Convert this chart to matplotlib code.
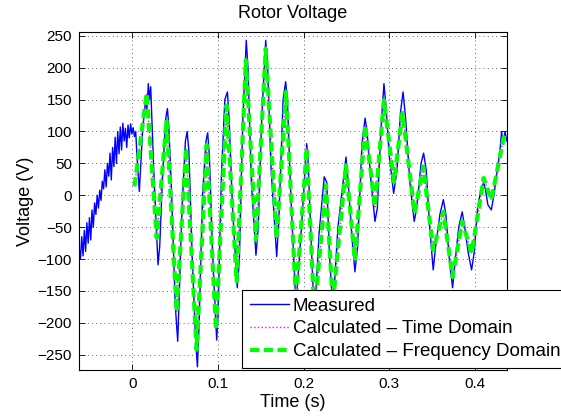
import matplotlib
matplotlib.use("Agg")
import matplotlib.pyplot as plt

plt.rcParams['font.family'] = ['Liberation Sans', 'DejaVu Sans']

# Measured voltage
meas_t = [-0.0622, -0.0605, -0.0590, -0.0575, -0.0560, -0.0545, -0.0530, -0.0515, -0.0500, -0.0485,
          -0.0470, -0.0455, -0.0440, -0.0425, -0.0410, -0.0395, -0.0380, -0.0365, -0.0350, -0.0335,
          -0.0320, -0.0305, -0.0290, -0.0275, -0.0260, -0.0245, -0.0230, -0.0215, -0.0200, -0.0185,
          -0.0170, -0.0155, -0.0140, -0.0125, -0.0110, -0.0095, -0.0080, -0.0065, -0.0050, -0.0035,
          -0.0020, -0.0005, 0.0010, 0.0025, 0.0040, 0.0055, 0.0082,
          0.0120, 0.0155, 0.0170, 0.0187, 0.0200, 0.0215, 0.0250, 0.0300, 0.0320, 0.0350, 0.0390,
          0.0410, 0.0425, 0.0460, 0.0500, 0.0530, 0.0545, 0.0580, 0.0620, 0.0640, 0.0660, 0.0700,
          0.0740, 0.0760, 0.0780, 0.0820, 0.0860, 0.0880, 0.0900, 0.0940, 0.0985, 0.1000, 0.1040,
          0.1080, 0.1110, 0.1130, 0.1170, 0.1225, 0.1250, 0.1290, 0.1330, 0.1350, 0.1390, 0.1443,
          0.1470, 0.1510, 0.1557, 0.1580, 0.1620, 0.1685, 0.1710, 0.1760, 0.1790, 0.1810, 0.1850,
          0.1910, 0.1970, 0.2035, 0.2050, 0.2090, 0.2125, 0.2180, 0.2240, 0.2270, 0.2300, 0.2340,
          0.2400, 0.2494, 0.2520, 0.2560, 0.2598, 0.2630, 0.2680, 0.2717, 0.2740, 0.2780, 0.2832,
          0.2860, 0.2900, 0.2937, 0.2960, 0.3000, 0.3050, 0.3090, 0.3130, 0.3160, 0.3190, 0.3240,
          0.3290, 0.3320, 0.3370, 0.3400, 0.3430, 0.3470, 0.3512, 0.3540, 0.3590, 0.3630, 0.3660,
          0.3700, 0.3738, 0.3770, 0.3810, 0.3850, 0.3880, 0.3920, 0.3960, 0.3990, 0.4030, 0.4070,
          0.4100, 0.4120, 0.4150, 0.4190, 0.4220, 0.4260, 0.4290, 0.4310, 0.4330, 0.4350, 0.4370]
meas_v = [-80, -100, -65, -95, -55, -88, -43, -75, -35, -70,
          -23, -50, -12, -30, 0, -20, 8, -8, 22, 10,
          40, 13, 50, 30, 66, 24, 75, 45, 91, 50,
          100, 65, 107, 71, 113, 85, 105, 75, 110, 90,
          112, 96, 106, 92, 100, 60, 6,
          100, 150, 135, 175, 150, 170, 40, -109, -80, 20, 120,
          136, 110, 0, -170, -229, -170, -20, 85, 100, 70, -100,
          -230, -269, -200, 0, 85, 98, 60, -100, -227, -190, 30,
          150, 162, 120, -20, -145, -100, 120, 243, 200, 20, -94,
          -50, 120, 243, 200, 40, -96, -40, 150, 178, 150, 0,
          -175, -60, 81, 60, -80, -195, -60, 29, 20, -90, -180,
          -50, 60, 20, -60, -120, -80, 80, 121, 100, 30, -41,
          -20, 100, 175, 140, 60, 3, 40, 130, 162, 120, 20,
          -41, -20, 50, 66, 40, -50, -117, -80, -30, -7, -30,
          -100, -145, -100, -50, -26, -50, -90, -117, -90, -20, 10,
          20, 10, -15, -23, 0, 40, 70, 100, 80, 100, 85]

# Calculated voltage (both methods nearly identical)
calc_t = [0.0025, 0.0168, 0.0285, 0.0400, 0.0518, 0.0627, 0.0750, 0.0868, 0.0977, 0.1100,
          0.1218, 0.1325, 0.1443, 0.1557, 0.1685, 0.1794, 0.1910, 0.2035, 0.2125, 0.2260,
          0.2340, 0.2494, 0.2598, 0.2717, 0.2832, 0.2937, 0.3054, 0.3153, 0.3295, 0.3396,
          0.3512, 0.3630, 0.3738, 0.3850, 0.3960, 0.4100, 0.4190, 0.4340]
calc_time_v = [14, 160, -67, 118, -182, 74, -242, 79, -211, 141,
               -135, 212, -70, 230, -67, 162, -165, 74, -185, 16,
               -170, 47, -102, 110, -18, 149, 21, 129, -28, 45,
               -86, -26, -128, -41, -91, 27, -7, 94]
calc_freq_v = [14, 160, -67, 118, -182, 74, -242, 79, -211, 141,
               -135, 212, -70, 230, -67, 162, -165, 74, -185, 16,
               -170, 47, -102, 110, -18, 149, 21, 129, -28, 45,
               -86, -26, -128, -41, -91, 27, -7, 94]

xticks = [0, 0.1, 0.2, 0.3, 0.4]
xticklabels = ['0', '0.1', '0.2', '0.3', '0.4']
yticks = [-250, -200, -150, -100, -50, 0, 50, 100, 150, 200, 250]

fig = plt.figure(figsize=(5.61, 4.20), dpi=100)
ax = fig.add_axes([79/561, 1-370/420, (507-79)/561, (370-32)/420])

ax.plot(meas_t, meas_v, color='#0000FF', lw=1.0, label='Measured')
ax.plot(calc_t, calc_time_v, color='#FF00FF', lw=1.0, ls=':', label='Calculated \u2013 Time Domain')
ax.plot(calc_t, calc_freq_v, color='#00FF00', lw=3.0, ls=(0, (2.2, 1.1)), label='Calculated \u2013 Frequency Domain')

ax.set_xlim(-0.0622, 0.4373)
ax.set_ylim(-274, 256)
ax.set_xticks(xticks)
ax.set_xticklabels(xticklabels)
ax.set_yticks(yticks)
ax.tick_params(direction='in', top=True, right=True, labelsize=11, length=4, width=0.6, pad=5)
ax.grid(True, ls=(0, (1, 4)), color='#333333', lw=0.6)
for s in ax.spines.values():
    s.set_linewidth(0.8)

ax.set_title('Rotor Voltage', fontsize=13, pad=10)
ax.set_xlabel('Time (s)', fontsize=13, labelpad=2)
ax.set_ylabel('Voltage (V)', fontsize=13, labelpad=3)

leg = fig.legend(loc='upper left', bbox_to_anchor=(242/561, 1-290/420), fontsize=13.5,
                 frameon=True, fancybox=False, framealpha=1, edgecolor='black',
                 handlelength=2.1, handletextpad=0.2, borderaxespad=0, labelspacing=0.3,
                 borderpad=0.4)
leg.get_frame().set_linewidth(0.8)

fig.savefig('out.png', dpi=100)
